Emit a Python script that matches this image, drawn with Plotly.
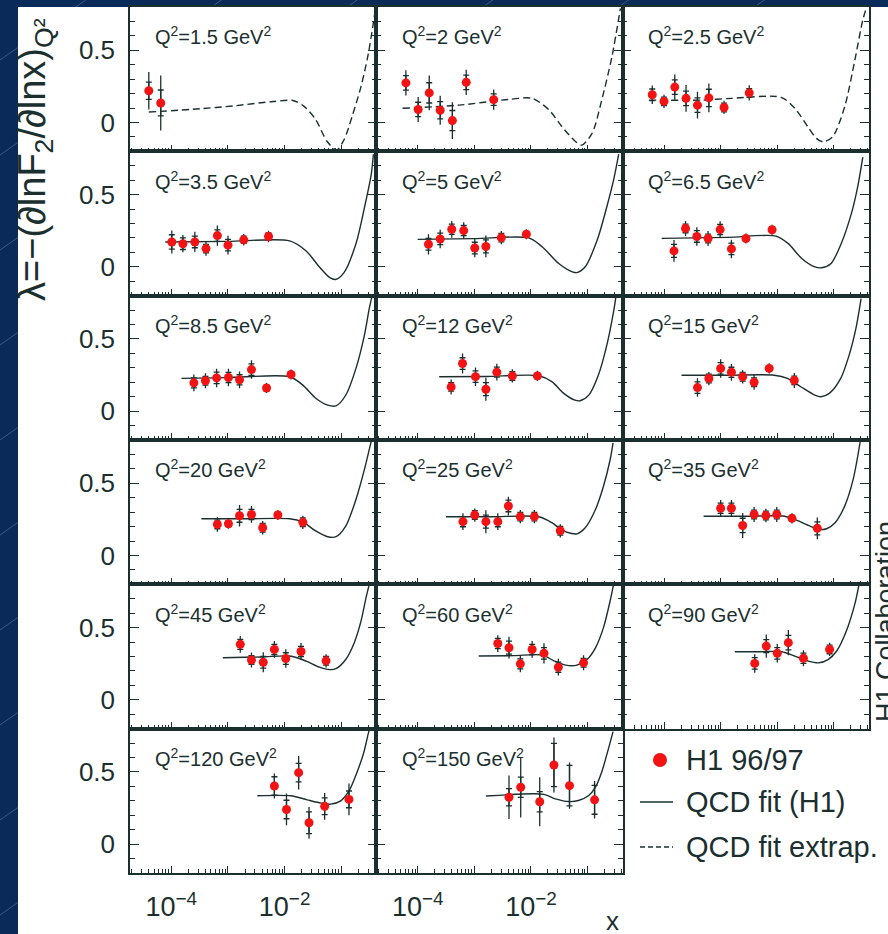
import plotly.graph_objects as go
from plotly.subplots import make_subplots

# ---------------------------------------------------------------
# lambda = -(d ln F2 / d ln x) at fixed Q^2, H1 96/97 data + QCD fit
# each panel: data x, lambda, total error, stat error; fit knots (x, lambda)
# ---------------------------------------------------------------
Q2_LABELS = ["1.5", "2", "2.5", "3.5", "5", "6.5", "8.5", "12", "15",
             "20", "25", "35", "45", "60", "90", "120", "150"]

X_1_5 = [4.0e-5, 6.5e-5]
L_1_5 = [0.22, 0.135]
T_1_5 = [0.13, 0.19]
S_1_5 = [0.06, 0.09]
FX_1_5 = [4.0e-5, 3.2e-4, 1.26e-3, 6.3e-3, 1.41e-2, 2.24e-2, 3.55e-2, 5.6e-2, 8.3e-2, 0.112, 0.158, 0.224, 0.302, 0.40]
FL_1_5 = [0.072, 0.095, 0.115, 0.145, 0.152, 0.11, 0.02, -0.13, -0.19, -0.12, 0.05, 0.25, 0.48, 0.78]

X_2 = [6.2e-5, 1.02e-4, 1.6e-4, 2.5e-4, 4.1e-4, 7.2e-4, 2.2e-3]
L_2 = [0.274, 0.09, 0.205, 0.085, 0.013, 0.278, 0.158]
T_2 = [0.087, 0.087, 0.12, 0.10, 0.127, 0.087, 0.07]
S_2 = [0.05, 0.05, 0.07, 0.06, 0.07, 0.05, 0.04]
FX_2 = [5.4e-5, 5.4e-4, 4.1e-3, 1.05e-2, 2.1e-2, 3.55e-2, 6.2e-2, 7.9e-2, 0.12, 0.178, 0.269, 0.38]
FL_2 = [0.098, 0.12, 0.16, 0.167, 0.086, -0.03, -0.134, -0.157, -0.076, 0.155, 0.455, 0.79]

X_2_5 = [6.2e-5, 1.0e-4, 1.55e-4, 2.45e-4, 3.9e-4, 6.2e-4, 1.15e-3, 3.2e-3]
L_2_5 = [0.192, 0.146, 0.245, 0.167, 0.12, 0.17, 0.104, 0.205]
T_2_5 = [0.064, 0.046, 0.087, 0.092, 0.092, 0.10, 0.046, 0.052]
S_2_5 = [0.04, 0.03, 0.05, 0.05, 0.05, 0.06, 0.03, 0.03]
FX_2_5 = [5.4e-5, 4.7e-4, 1.55e-3, 1.17e-2, 2.04e-2, 3.47e-2, 4.9e-2, 6.5e-2, 9.5e-2, 0.155, 0.234, 0.324, 0.38]
FL_2_5 = [0.155, 0.155, 0.167, 0.174, 0.098, -0.03, -0.11, -0.134, -0.10, 0.109, 0.43, 0.71, 0.80]

X_3_5 = [1.02e-4, 1.6e-4, 2.6e-4, 4.1e-4, 6.5e-4, 1.0e-3, 1.9e-3, 5.2e-3]
L_3_5 = [0.172, 0.16, 0.172, 0.126, 0.216, 0.15, 0.187, 0.21]
T_3_5 = [0.08, 0.06, 0.07, 0.05, 0.07, 0.065, 0.04, 0.04]
S_3_5 = [0.05, 0.04, 0.04, 0.03, 0.04, 0.04, 0.025, 0.025]
FX_3_5 = [7.8e-5, 1.0e-3, 1.23e-2, 2.4e-2, 4.1e-2, 6.3e-2, 7.9e-2, 0.112, 0.182, 0.257, 0.339, 0.37]
FL_3_5 = [0.172, 0.176, 0.18, 0.11, 0.0, -0.075, -0.088, -0.04, 0.16, 0.41, 0.64, 0.78]

X_5 = [1.55e-4, 2.5e-4, 4.0e-4, 6.5e-4, 1.02e-3, 1.6e-3, 3.0e-3, 8.3e-3]
L_5 = [0.156, 0.193, 0.26, 0.251, 0.13, 0.141, 0.202, 0.226]
T_5 = [0.07, 0.064, 0.058, 0.058, 0.064, 0.075, 0.046, 0.035]
S_5 = [0.04, 0.04, 0.035, 0.035, 0.04, 0.045, 0.03, 0.02]
FX_5 = [1.0e-4, 1.0e-3, 9.1e-3, 1.58e-2, 3.1e-2, 5.4e-2, 6.5e-2, 9.1e-2, 0.148, 0.219, 0.288, 0.355]
FL_5 = [0.19, 0.195, 0.20, 0.139, 0.023, -0.035, -0.04, 0.0, 0.185, 0.416, 0.60, 0.78]

X_6_5 = [1.5e-4, 2.4e-4, 3.8e-4, 6.0e-4, 9.8e-4, 1.55e-3, 2.8e-3, 8.1e-3]
L_6_5 = [0.11, 0.266, 0.21, 0.196, 0.258, 0.124, 0.196, 0.257]
T_6_5 = [0.075, 0.052, 0.064, 0.052, 0.058, 0.064, 0.035, 0.035]
S_6_5 = [0.045, 0.03, 0.04, 0.03, 0.035, 0.04, 0.02, 0.02]
FX_6_5 = [9.1e-5, 1.35e-3, 9.5e-3, 1.55e-2, 2.7e-2, 4.6e-2, 6.0e-2, 8.9e-2, 0.135, 0.204, 0.263, 0.324]
FL_6_5 = [0.197, 0.204, 0.213, 0.162, 0.058, 0.0, -0.007, 0.023, 0.162, 0.37, 0.554, 0.76]

X_8_5 = [2.5e-4, 4.0e-4, 6.3e-4, 1.02e-3, 1.6e-3, 2.6e-3, 4.8e-3, 1.3e-2]
L_8_5 = [0.196, 0.21, 0.23, 0.233, 0.217, 0.288, 0.16, 0.254]
T_8_5 = [0.058, 0.052, 0.064, 0.06, 0.058, 0.064, 0.035, 0.035]
S_8_5 = [0.035, 0.03, 0.04, 0.035, 0.035, 0.04, 0.02, 0.02]
FX_8_5 = [1.51e-4, 1.0e-3, 1.23e-2, 2.1e-2, 3.6e-2, 5.75e-2, 8.1e-2, 0.12, 0.182, 0.257, 0.313, 0.347]
FL_8_5 = [0.227, 0.232, 0.238, 0.18, 0.088, 0.042, 0.037, 0.11, 0.296, 0.527, 0.712, 0.79]

X_12 = [3.9e-4, 6.2e-4, 1.05e-3, 1.6e-3, 2.5e-3, 4.7e-3, 1.3e-2]
L_12 = [0.168, 0.33, 0.239, 0.152, 0.27, 0.244, 0.244]
T_12 = [0.052, 0.07, 0.064, 0.08, 0.058, 0.046, 0.035]
S_12 = [0.03, 0.04, 0.04, 0.045, 0.035, 0.03, 0.02]
FX_12 = [2.4e-4, 1.6e-3, 1.38e-2, 2.34e-2, 3.8e-2, 6.0e-2, 7.4e-2, 0.105, 0.155, 0.219, 0.288, 0.316]
FL_12 = [0.238, 0.24, 0.245, 0.204, 0.123, 0.076, 0.072, 0.111, 0.249, 0.457, 0.689, 0.79]

X_15 = [3.9e-4, 6.2e-4, 1.0e-3, 1.55e-3, 2.45e-3, 3.9e-3, 7.2e-3, 2.0e-2]
L_15 = [0.163, 0.226, 0.296, 0.269, 0.238, 0.2, 0.296, 0.213]
T_15 = [0.064, 0.046, 0.064, 0.058, 0.046, 0.052, 0.035, 0.052]
S_15 = [0.04, 0.03, 0.04, 0.035, 0.03, 0.03, 0.02, 0.03]
FX_15 = [2.04e-4, 1.26e-3, 8.9e-3, 1.51e-2, 2.6e-2, 4.6e-2, 5.9e-2, 8.3e-2, 0.132, 0.186, 0.245, 0.302]
FL_15 = [0.249, 0.249, 0.249, 0.227, 0.169, 0.111, 0.10, 0.123, 0.227, 0.388, 0.573, 0.78]

X_20 = [6.5e-4, 1.02e-3, 1.6e-3, 2.6e-3, 4.1e-3, 7.6e-3, 2.1e-2]
L_20 = [0.215, 0.22, 0.275, 0.284, 0.192, 0.28, 0.23]
T_20 = [0.05, 0.035, 0.075, 0.058, 0.046, 0.035, 0.046]
S_20 = [0.03, 0.02, 0.045, 0.035, 0.03, 0.02, 0.03]
FX_20 = [3.4e-4, 2.0e-3, 1.23e-2, 2.1e-2, 3.6e-2, 5.75e-2, 8.1e-2, 0.12, 0.182, 0.257, 0.313, 0.339]
FL_20 = [0.254, 0.254, 0.254, 0.231, 0.168, 0.13, 0.13, 0.203, 0.388, 0.596, 0.735, 0.79]

X_25 = [6.3e-4, 1.02e-3, 1.6e-3, 2.6e-3, 4.0e-3, 6.5e-3, 1.15e-2, 3.3e-2]
L_25 = [0.234, 0.28, 0.234, 0.234, 0.343, 0.269, 0.269, 0.171]
T_25 = [0.058, 0.046, 0.08, 0.058, 0.064, 0.046, 0.046, 0.046]
S_25 = [0.035, 0.03, 0.045, 0.035, 0.04, 0.03, 0.03, 0.03]
FX_25 = [3.16e-4, 2.0e-3, 1.38e-2, 2.34e-2, 3.55e-2, 5.25e-2, 6.5e-2, 9.1e-2, 0.138, 0.191, 0.251, 0.282]
FL_25 = [0.268, 0.268, 0.268, 0.227, 0.175, 0.152, 0.15, 0.192, 0.319, 0.48, 0.665, 0.78]

X_35 = [1.0e-3, 1.55e-3, 2.45e-3, 3.9e-3, 6.3e-3, 9.8e-3, 1.82e-2, 5.1e-2]
L_35 = [0.327, 0.327, 0.208, 0.284, 0.277, 0.284, 0.257, 0.188]
T_35 = [0.058, 0.058, 0.087, 0.052, 0.046, 0.052, 0.035, 0.075]
S_35 = [0.035, 0.035, 0.05, 0.03, 0.03, 0.03, 0.02, 0.045]
FX_35 = [5.0e-4, 3.0e-3, 1.35e-2, 2.04e-2, 3.55e-2, 5.6e-2, 7.4e-2, 0.105, 0.155, 0.219, 0.295]
FL_35 = [0.272, 0.272, 0.272, 0.25, 0.208, 0.18, 0.185, 0.227, 0.342, 0.527, 0.80]

X_45 = [1.65e-3, 2.6e-3, 4.2e-3, 6.6e-3, 1.05e-2, 1.95e-2, 5.4e-2]
L_45 = [0.384, 0.275, 0.26, 0.349, 0.286, 0.335, 0.27]
T_45 = [0.058, 0.052, 0.07, 0.058, 0.064, 0.058, 0.046]
S_45 = [0.035, 0.03, 0.04, 0.035, 0.04, 0.035, 0.03]
FX_45 = [8.1e-4, 4.0e-3, 1.23e-2, 2.4e-2, 4.1e-2, 6.2e-2, 8.1e-2, 0.12, 0.17, 0.224, 0.275, 0.313]
FL_45 = [0.291, 0.297, 0.303, 0.268, 0.226, 0.209, 0.216, 0.279, 0.396, 0.547, 0.71, 0.80]

X_60 = [2.6e-3, 4.1e-3, 6.5e-3, 1.05e-2, 1.7e-2, 3.05e-2, 8.5e-2]
L_60 = [0.39, 0.361, 0.249, 0.349, 0.322, 0.226, 0.256]
T_60 = [0.058, 0.075, 0.058, 0.058, 0.07, 0.058, 0.052]
S_60 = [0.035, 0.045, 0.035, 0.035, 0.04, 0.035, 0.03]
FX_60 = [1.2e-3, 5.0e-3, 1.58e-2, 2.5e-2, 4.1e-2, 6.5e-2, 9.8e-2, 0.138, 0.191, 0.251, 0.288]
FL_60 = [0.303, 0.306, 0.31, 0.272, 0.24, 0.24, 0.279, 0.36, 0.50, 0.687, 0.80]

X_90 = [4.0e-3, 6.4e-3, 1.0e-2, 1.57e-2, 2.9e-2, 8.4e-2]
L_90 = [0.252, 0.372, 0.322, 0.396, 0.288, 0.349]
T_90 = [0.064, 0.08, 0.064, 0.087, 0.055, 0.046]
S_90 = [0.04, 0.045, 0.04, 0.05, 0.035, 0.03]
FX_90 = [1.78e-3, 5.0e-3, 1.2e-2, 2.04e-2, 3.55e-2, 5.25e-2, 7.9e-2, 0.112, 0.166, 0.234, 0.275]
FL_90 = [0.333, 0.333, 0.333, 0.303, 0.268, 0.256, 0.279, 0.338, 0.477, 0.663, 0.79]

X_120 = [6.6e-3, 1.08e-2, 1.77e-2, 2.7e-2, 5.1e-2, 1.37e-1]
L_120 = [0.403, 0.24, 0.495, 0.148, 0.262, 0.31]
T_120 = [0.087, 0.11, 0.116, 0.11, 0.093, 0.11]
S_120 = [0.064, 0.064, 0.064, 0.075, 0.058, 0.058]
FX_120 = [3.3e-3, 1.29e-2, 2.5e-2, 4.4e-2, 6.5e-2, 9.8e-2, 0.138, 0.191, 0.251, 0.295, 0.316]
FL_120 = [0.335, 0.335, 0.307, 0.284, 0.277, 0.30, 0.37, 0.50, 0.637, 0.753, 0.80]

X_150 = [4.1e-3, 6.6e-3, 1.43e-2, 2.55e-2, 4.8e-2, 1.33e-1]
L_150 = [0.325, 0.394, 0.294, 0.548, 0.405, 0.307]
T_150 = [0.15, 0.21, 0.17, 0.19, 0.16, 0.13]
S_150 = [0.06, 0.07, 0.07, 0.15, 0.14, 0.10]
FX_150 = [1.6e-3, 1.7e-2, 2.7e-2, 4.7e-2, 6.9e-2, 0.105, 0.138, 0.178, 0.234, 0.282]
FL_150 = [0.333, 0.345, 0.314, 0.295, 0.302, 0.337, 0.395, 0.50, 0.662, 0.78]

PANELS = [
    (X_1_5, L_1_5, T_1_5, S_1_5, FX_1_5, FL_1_5),
    (X_2, L_2, T_2, S_2, FX_2, FL_2),
    (X_2_5, L_2_5, T_2_5, S_2_5, FX_2_5, FL_2_5),
    (X_3_5, L_3_5, T_3_5, S_3_5, FX_3_5, FL_3_5),
    (X_5, L_5, T_5, S_5, FX_5, FL_5),
    (X_6_5, L_6_5, T_6_5, S_6_5, FX_6_5, FL_6_5),
    (X_8_5, L_8_5, T_8_5, S_8_5, FX_8_5, FL_8_5),
    (X_12, L_12, T_12, S_12, FX_12, FL_12),
    (X_15, L_15, T_15, S_15, FX_15, FL_15),
    (X_20, L_20, T_20, S_20, FX_20, FL_20),
    (X_25, L_25, T_25, S_25, FX_25, FL_25),
    (X_35, L_35, T_35, S_35, FX_35, FL_35),
    (X_45, L_45, T_45, S_45, FX_45, FL_45),
    (X_60, L_60, T_60, S_60, FX_60, FL_60),
    (X_90, L_90, T_90, S_90, FX_90, FL_90),
    (X_120, L_120, T_120, S_120, FX_120, FL_120),
    (X_150, L_150, T_150, S_150, FX_150, FL_150),
]
# fits in the first row are extrapolations (drawn dashed)
EXTRAP_PANELS = {0, 1, 2}

X_DECADES = [1e-5, 1e-4, 1e-3, 1e-2, 1e-1]
X_TICKTEXT = ["", "10<sup>\u22124</sup>", "", "10<sup>\u22122</sup>", ""]
X_MINOR = [m * d for d in X_DECADES for m in range(2, 10)]

# ---------------------------------------------------------------
W, H = 888, 934
L_M, R_M, T_M, B_M = 130, 19, 7, 61
PW, PH = W - L_M - R_M, H - T_M - B_M
INK = "#1b2f2f"
RED = "#f21414"
NAVY = "#0a2a5a"
FONT = "Liberation Sans, Arial, sans-serif"


def px(xp):
    return (xp - L_M) / PW


def py(yp):
    return (H - B_M - yp) / PH


fig = make_subplots(rows=6, cols=3, horizontal_spacing=0, vertical_spacing=0)

for i, (xs, ls, ts, ss, fx, fl) in enumerate(PANELS):
    r, c = i // 3 + 1, i % 3 + 1
    dash = "7px,4px" if i in EXTRAP_PANELS else "solid"
    fig.add_trace(go.Scatter(x=fx, y=fl, mode="lines",
                             line=dict(color=INK, width=1.4, shape="spline",
                                       smoothing=0.8, dash=dash),
                             hoverinfo="skip"), row=r, col=c)
    fig.add_trace(go.Scatter(x=xs, y=ls, mode="markers",
                             marker=dict(size=2, color="rgba(0,0,0,0)"),
                             error_y=dict(type="data", array=ts, width=0,
                                          thickness=1.3, color=INK)),
                  row=r, col=c)
    fig.add_trace(go.Scatter(x=xs, y=ls, mode="markers",
                             marker=dict(size=9, color=RED),
                             error_y=dict(type="data", array=ss, width=3,
                                          thickness=1.3, color=INK)),
                  row=r, col=c)

for k in range(18):
    r, c = k // 3 + 1, k % 3 + 1
    if k == 17:
        fig.update_xaxes(visible=False, row=r, col=c)
        fig.update_yaxes(visible=False, row=r, col=c)
        continue
    show_x = (r == 6)
    fig.update_xaxes(type="log", range=[-4.73, -0.38], showgrid=False,
                     zeroline=False, showline=True, mirror=True,
                     linecolor=INK, linewidth=1.5,
                     ticks="inside", ticklen=7, tickwidth=1, tickcolor=INK,
                     tickmode="array", tickvals=X_DECADES,
                     ticktext=X_TICKTEXT, showticklabels=show_x,
                     ticklabelstandoff=9,
                     tickfont=dict(family=FONT, size=27, color=INK),
                     minor=dict(tickmode="array", tickvals=X_MINOR,
                                ticks="inside", ticklen=4, tickwidth=1,
                                tickcolor=INK, showgrid=False),
                     row=r, col=c)
    fig.update_yaxes(range=[-0.2, 0.8], showgrid=False, zeroline=False,
                     showline=True, mirror="ticks", linecolor=INK,
                     linewidth=1.5, ticks="inside", ticklen=9, tickwidth=1,
                     tickcolor=INK, tick0=0, dtick=0.5,
                     showticklabels=(c == 1), ticklabelstandoff=8,
                     tickfont=dict(family=FONT, size=26, color=INK),
                     minor=dict(dtick=0.1, ticks="inside", ticklen=5,
                                tickwidth=1, tickcolor=INK, showgrid=False),
                     row=r, col=c)

annotations = []
for i, q in enumerate(Q2_LABELS):
    k = i + 1
    xr = "x domain" if k == 1 else f"x{k} domain"
    yr = "y domain" if k == 1 else f"y{k} domain"
    annotations.append(dict(
        text=f"Q<sup>2</sup>=<span>{q}</span> GeV<sup>2</sup>",
        xref=xr, yref=yr, x=0.095, y=0.80, xanchor="left", yanchor="middle",
        showarrow=False, font=dict(family=FONT, size=20, color=INK)))

# axis titles
annotations.append(dict(
    text="\u03bb=\u2212(\u2202lnF<sub>2</sub>/\u2202lnx)<sub>Q\u00b2</sub>",
    xref="paper", yref="paper", x=px(35), y=py(160), textangle=-90,
    xanchor="center", yanchor="middle", showarrow=False,
    font=dict(family=FONT, size=38, color=INK)))
annotations.append(dict(
    text="x", xref="paper", yref="paper", x=px(612), y=py(921),
    xanchor="center", yanchor="middle", showarrow=False,
    font=dict(family=FONT, size=26, color=INK)))
annotations.append(dict(
    text="H1 Collaboration", xref="paper", yref="paper", x=px(886),
    y=py(622), textangle=-90, xanchor="center", yanchor="middle",
    showarrow=False, font=dict(family=FONT, size=27, color=INK)))

# legend
LEG_FONT = dict(family=FONT, size=29, color=INK)
for label, yp in [("H1 96/97", 760), ("QCD fit (H1)", 802),
                  ("QCD fit extrap.", 847)]:
    annotations.append(dict(text=label, xref="paper", yref="paper",
                            x=px(684), y=py(yp), xanchor="left",
                            yanchor="middle", showarrow=False, font=LEG_FONT))

shapes = []
# slide background with faint diagonal strokes
for y0 in range(-700, 1000, 95):
    shapes.append(dict(type="line", xref="paper", yref="paper", layer="below",
                       x0=px(0), y0=py(y0), x1=px(1300), y1=py(y0 - 910),
                       line=dict(color="rgba(150,180,225,0.35)", width=1)))
shapes.append(dict(type="rect", xref="paper", yref="paper", layer="below",
                   x0=px(18), y0=py(H + 5), x1=px(W + 5), y1=py(T_M),
                   fillcolor="white", line=dict(width=0)))
# legend symbols
shapes.append(dict(type="circle", xref="paper", yref="paper",
                   x0=px(653), x1=px(667), y0=py(767), y1=py(753),
                   fillcolor=RED, line=dict(width=0)))
shapes.append(dict(type="line", xref="paper", yref="paper",
                   x0=px(640), x1=px(673), y0=py(802), y1=py(802),
                   line=dict(color=INK, width=1.4)))
shapes.append(dict(type="line", xref="paper", yref="paper",
                   x0=px(640), x1=px(673), y0=py(847), y1=py(847),
                   line=dict(color=INK, width=1.4, dash="5px,3px")))

fig.update_layout(width=W, height=H,
                  margin=dict(l=L_M, r=R_M, t=T_M, b=B_M, pad=0),
                  paper_bgcolor=NAVY, plot_bgcolor="white",
                  showlegend=False, annotations=annotations, shapes=shapes,
                  font=dict(family=FONT, color=INK))

fig.write_html("out.html")
